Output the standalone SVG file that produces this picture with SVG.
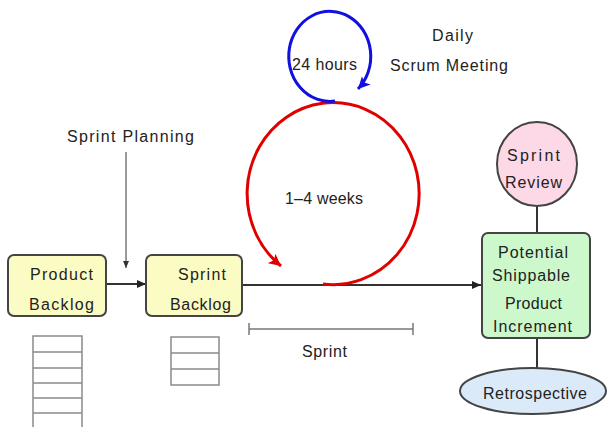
<svg xmlns="http://www.w3.org/2000/svg" width="608" height="427" viewBox="0 0 608 427">
<defs>
<style>
text{font-family:"Liberation Sans",Arial,sans-serif;font-size:16px;fill:#222}
.box{stroke:#444;stroke-width:2}
.stack{fill:none;stroke:#8a8a8a;stroke-width:1.5}
.conn{stroke:#333;stroke-width:2;fill:none}
</style>
<marker id="ah" markerUnits="userSpaceOnUse" markerWidth="10" markerHeight="10" refX="9" refY="5" orient="auto"><path d="M0,1 L9,5 L0,9 Z" fill="#222"/></marker>
<marker id="ahs" markerUnits="userSpaceOnUse" markerWidth="8" markerHeight="8" refX="7" refY="4" orient="auto"><path d="M0,1 L7,4 L0,7 Z" fill="#333"/></marker>
<marker id="ahr" markerUnits="userSpaceOnUse" markerWidth="14" markerHeight="14" refX="12" refY="7" orient="auto"><path d="M0,1 L12,7 L0,13 L3,7 Z" fill="#e00000"/></marker>
<marker id="ahb" markerUnits="userSpaceOnUse" markerWidth="14" markerHeight="14" refX="12" refY="7" orient="auto"><path d="M0,1 L12,7 L0,13 L3,7 Z" fill="#1010e0"/></marker>
</defs>
<rect width="608" height="427" fill="#fff"/>

<g id="connectors">
<line class="conn" x1="106" y1="284" x2="146" y2="284" marker-end="url(#ah)"/>
<line class="conn" x1="242" y1="285" x2="481" y2="285" marker-end="url(#ah)"/>
<line x1="126" y1="152" x2="126" y2="268" stroke="#555" stroke-width="1.2" marker-end="url(#ahs)"/>
<line class="conn" x1="537" y1="206" x2="537" y2="233"/>
<line class="conn" x1="537" y1="338" x2="537" y2="368"/>
<path d="M323,284 A86,91 0 1 0 281,266" fill="none" stroke="#e00000" stroke-width="3" marker-end="url(#ahr)"/>
<path d="M335,101 A41,45 0 1 1 358,89" fill="none" stroke="#1010e0" stroke-width="3" marker-end="url(#ahb)"/>
<g stroke="#777" stroke-width="1.5">
<line x1="249" y1="329" x2="413" y2="329"/>
<line x1="249" y1="323" x2="249" y2="335"/>
<line x1="413" y1="323" x2="413" y2="335"/>
</g>
</g>

<g id="labels">
<text x="432" y="41" textLength="41" lengthAdjust="spacing">Daily</text>
<text x="390" y="71" textLength="118" lengthAdjust="spacing">Scrum Meeting</text>
<text x="292" y="70" textLength="65" lengthAdjust="spacing">24 hours</text>
<text x="67" y="142" textLength="127" lengthAdjust="spacing">Sprint Planning</text>
<text x="285" y="204" textLength="78" lengthAdjust="spacing">1–4 weeks</text>
<text x="302" y="357" textLength="45" lengthAdjust="spacing">Sprint</text>
</g>

<g id="product-backlog">
<rect class="box" x="8" y="255" width="98" height="61" rx="6" fill="#fbfbc4"/>
<text x="30" y="280" textLength="63" lengthAdjust="spacing">Product</text>
<text x="29" y="310" textLength="65" lengthAdjust="spacing">Backlog</text>
</g>

<g id="product-backlog-stack" class="stack">
<rect x="33" y="336" width="49" height="100"/>
<line x1="33" y1="352" x2="82" y2="352"/>
<line x1="33" y1="368" x2="82" y2="368"/>
<line x1="33" y1="383" x2="82" y2="383"/>
<line x1="33" y1="398" x2="82" y2="398"/>
<line x1="33" y1="413" x2="82" y2="413"/>
</g>

<g id="sprint-backlog">
<rect class="box" x="146" y="255" width="96" height="61" rx="6" fill="#fbfbc4"/>
<text x="178" y="280" textLength="48" lengthAdjust="spacing">Sprint</text>
<text x="170" y="310" textLength="61" lengthAdjust="spacing">Backlog</text>
</g>

<g id="sprint-backlog-stack" class="stack">
<rect x="171" y="337" width="48" height="48"/>
<line x1="171" y1="353" x2="219" y2="353"/>
<line x1="171" y1="369" x2="219" y2="369"/>
</g>

<g id="sprint-review">
<ellipse class="box" cx="537" cy="164" rx="40" ry="42" fill="#fdd8e6"/>
<text x="507" y="161" textLength="53" lengthAdjust="spacing">Sprint</text>
<text x="505" y="188" textLength="57" lengthAdjust="spacing">Review</text>
</g>

<g id="increment">
<rect class="box" x="482" y="233" width="108" height="105" rx="6" fill="#ccf8cc"/>
<text x="498" y="258" textLength="70" lengthAdjust="spacing">Potential</text>
<text x="492" y="281" textLength="78" lengthAdjust="spacing">Shippable</text>
<text x="505" y="309" textLength="57" lengthAdjust="spacing">Product</text>
<text x="493" y="332" textLength="79" lengthAdjust="spacing">Increment</text>
</g>

<g id="retrospective">
<ellipse class="box" cx="533" cy="391" rx="73" ry="23" fill="#daeaf8"/>
<text x="483" y="399" textLength="104" lengthAdjust="spacing">Retrospective</text>
</g>
</svg>
